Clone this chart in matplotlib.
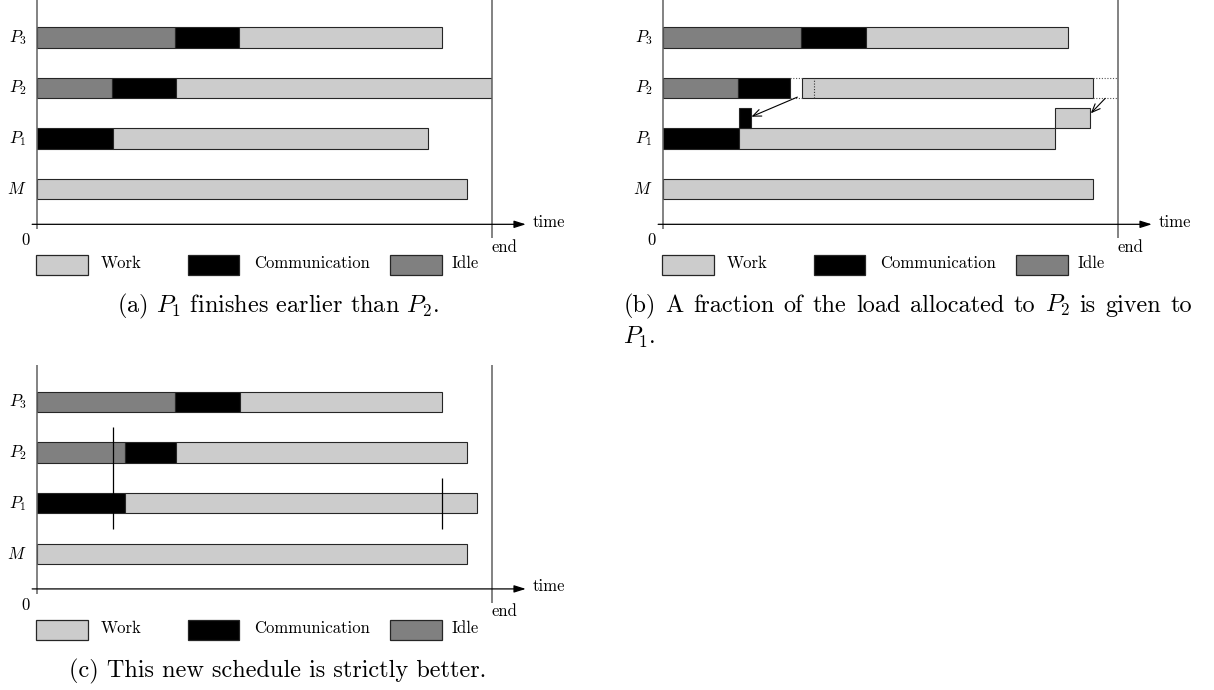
import matplotlib
matplotlib.use('Agg')
import matplotlib.pyplot as plt
from matplotlib.patches import Rectangle
import numpy as np

plt.rcParams['font.family'] = ['cmr10', 'DejaVu Serif']
plt.rcParams['mathtext.fontset'] = 'cm'
plt.rcParams['axes.formatter.use_mathtext'] = True

# ---------------- data ----------------
row_labels = ['$M$', '$P_1$', '$P_2$', '$P_3$']
legend_labels = ['Work', 'Communication', 'Idle']
T_END = 100

# (a) rows: M, P1, P2, P3
a_idle_end = [0, 0, 16.5, 30.5]
a_comm_end = [0, 16.8, 30.6, 44.5]
a_work_end = [94.5, 86.1, 100.0, 89.0]

# (b)
b_idle_end = [0, 0, 16.6, 30.5]
b_comm_end = [0, 16.8, 28.0, 44.7]
b_work_start = [0, 16.8, 30.6, 44.7]
b_work_end = [94.5, 86.2, 94.5, 89.1]
b_moved_comm = [16.8, 19.5]      # extra communication given to P1
b_moved_work = [86.2, 94.0]      # extra work given to P1
b_removed_comm = [28.0, 30.6]    # removed from P2
b_removed_work = [94.5, 100.0]   # removed from P2
b_shift_mark = 33.3

# (c)
c_idle_end = [0, 0, 19.4, 30.5]
c_comm_end = [0, 19.5, 30.6, 44.6]
c_work_end = [94.5, 96.7, 94.5, 89.0]
c_mark_x = [16.7, 89.0]
c_mark_rows = [(0.5, 2.5), (0.5, 1.5)]

caption_a = '(a) $P_1$ finishes earlier than $P_2$.'
caption_b1 = '(b) A fraction of the load allocated to $P_2$ is given to'
caption_b2 = '$P_1$.'
caption_c = '(c) This new schedule is strictly better.'

# ---------------- style / layout ----------------
W, H = 1214, 690
WORK_C, COMM_C, IDLE_C = '#cccccc', '#000000', '#808080'
EDGE = '#262626'
AXIS_GRAY = '#606060'
PX_PER_T = 4.55
PX_PER_ROW = 50.6
Y_LO, Y_HI = -1.0, 3.74
BAR_H = 0.4
TIME_Y = -0.694
SMALL = 12.0
CAP = 17.5

fig = plt.figure(figsize=(W / 100, H / 100), dpi=100)


def fx(px):
    return px / W


def fy(py):
    return 1 - py / H


def make_ax(x0px, row0px):
    top_px = row0px - Y_HI * PX_PER_ROW
    bottom_px = row0px - Y_LO * PX_PER_ROW
    ax = fig.add_axes([x0px / W, 1 - bottom_px / H, T_END * PX_PER_T / W,
                       (bottom_px - top_px) / H])
    ax.set_xlim(0, T_END)
    ax.set_ylim(Y_LO, Y_HI)
    ax.axis('off')
    return ax


def draw_frame(ax):
    ax.plot([0, 0], [-0.79, Y_HI], color=AXIS_GRAY, lw=1.1, clip_on=False,
            solid_capstyle='butt')
    ax.plot([T_END, T_END], [-0.97, Y_HI], color=AXIS_GRAY, lw=1.1,
            clip_on=False, solid_capstyle='butt')
    ax.annotate('', xy=(107.5, TIME_Y), xytext=(-1.0, TIME_Y),
                arrowprops=dict(arrowstyle='-|>,head_length=0.7,head_width=0.22',
                                color='black', lw=0.9, shrinkA=0, shrinkB=0),
                annotation_clip=False)
    ax.annotate('0', xy=(0, TIME_Y), xytext=(-11.7, -20.7),
                textcoords='offset pixels', ha='center', va='baseline',
                fontsize=SMALL, annotation_clip=False)
    ax.annotate('end', xy=(T_END, TIME_Y), xytext=(0, -27.2),
                textcoords='offset pixels', ha='left', va='baseline',
                fontsize=SMALL, annotation_clip=False)
    ax.annotate('time', xy=(107.5, TIME_Y), xytext=(7, -2.4),
                textcoords='offset pixels', ha='left', va='baseline',
                fontsize=SMALL, annotation_clip=False)
    for r, lab in enumerate(row_labels):
        ax.annotate(lab, xy=(0, r), xytext=(-10, 0), textcoords='offset pixels',
                    ha='right', va='center', fontsize=SMALL,
                    annotation_clip=False)


def draw_bars(ax, idle_end, comm_end, work_end, work_start=None):
    rows = np.arange(len(row_labels))
    idle_end = np.asarray(idle_end, float)
    comm_end = np.asarray(comm_end, float)
    work_end = np.asarray(work_end, float)
    work_start = comm_end if work_start is None else np.asarray(work_start, float)
    segs = [(np.zeros_like(idle_end), idle_end, IDLE_C),
            (idle_end, comm_end, COMM_C),
            (work_start, work_end, WORK_C)]
    for start, end, col in segs:
        w = end - start
        m = w > 0
        ax.barh(rows[m], w[m], left=start[m], height=BAR_H, color=col,
                edgecolor=EDGE, linewidth=0.8)


def draw_legend(x0px, ytop_px):
    boxes = [(-0.7, 51.7, WORK_C, 64.3), (151.6, 50.7, COMM_C, 217.6),
             (353.3, 51.7, IDLE_C, 415.0)]
    for (bx, bw, col, tx), lab in zip(boxes, legend_labels):
        fig.add_artist(Rectangle((fx(x0px + bx), fy(ytop_px + 20.5)),
                                 bw / W, 20.5 / H, transform=fig.transFigure,
                                 facecolor=col, edgecolor=EDGE, lw=0.9))
        fig.text(fx(x0px + tx), fy(ytop_px + 13.8), lab, fontsize=SMALL,
                 ha='left', va='baseline')


def justified_line(text, x_left, x_right, base_px, size):
    words = text.split(' ')
    renderer = fig.canvas.get_renderer()
    arts = [fig.text(0, fy(base_px), w, fontsize=size, ha='left', va='baseline')
            for w in words]
    widths = [a.get_window_extent(renderer).width for a in arts]
    gap = (x_right - x_left - sum(widths)) / (len(words) - 1)
    x = x_left
    for a, wd in zip(arts, widths):
        a.set_x(fx(x))
        x += wd + gap


# ---------------- panel (a) ----------------
ax_a = make_ax(36.7, 189.2)
draw_frame(ax_a)
draw_bars(ax_a, a_idle_end, a_comm_end, a_work_end)
draw_legend(36.7, 254.5)
fig.text(fx(278), fy(312), caption_a, fontsize=CAP, ha='center', va='baseline')

# ---------------- panel (b) ----------------
ax_b = make_ax(662.7, 189.2)
draw_frame(ax_b)
draw_bars(ax_b, b_idle_end, b_comm_end, b_work_end, work_start=b_work_start)
# pieces given to P1 (drawn on top of P1's bar)
p1_top = 1 + BAR_H / 2
ax_b.bar(b_moved_comm[0], BAR_H, width=b_moved_comm[1] - b_moved_comm[0],
         bottom=p1_top, align='edge', color=COMM_C, edgecolor=EDGE, lw=0.8)
ax_b.bar(b_moved_work[0], BAR_H, width=b_moved_work[1] - b_moved_work[0],
         bottom=p1_top, align='edge', color=WORK_C, edgecolor=EDGE, lw=0.8)
# removed parts of P2 (dotted)
p2_lo, p2_hi = 2 - BAR_H / 2, 2 + BAR_H / 2
ax_b.hlines([p2_lo, p2_hi], b_removed_comm[0], b_removed_comm[1],
            colors='#555555', linestyles=(0, (1, 1.5)), lw=0.8)
ax_b.hlines([p2_lo, p2_hi], b_removed_work[0], b_removed_work[1],
            colors='#555555', linestyles=(0, (1, 1.5)), lw=0.8)
ax_b.vlines([b_removed_work[1]], p2_lo, p2_hi, colors='#555555',
            linestyles=(0, (1, 1.5)), lw=0.8)
ax_b.vlines([b_shift_mark], p2_lo, p2_hi, colors='#333333',
            linestyles=(0, (1, 1.5)), lw=0.8)
# arrows
arrow_kw = dict(arrowstyle='->,head_length=0.6,head_width=0.25', color='black',
                lw=0.8, shrinkA=0, shrinkB=0)
ax_b.annotate('', xy=(b_moved_comm[1], 1.433),
              xytext=(np.mean(b_removed_comm) + 0.3, p2_lo + 0.02),
              arrowprops=arrow_kw)
ax_b.annotate('', xy=(b_moved_work[1] + 0.1, 1.5),
              xytext=(np.mean(b_removed_work), p2_lo - 0.005),
              arrowprops=arrow_kw)
draw_legend(662.7, 254.5)
justified_line(caption_b1, 623.3, 1192, 312, CAP)
fig.text(fx(623.3), fy(344), caption_b2, fontsize=CAP, ha='left', va='baseline')

# ---------------- panel (c) ----------------
ax_c = make_ax(36.7, 553.8)
draw_frame(ax_c)
draw_bars(ax_c, c_idle_end, c_comm_end, c_work_end)
for xm, (lo, hi) in zip(c_mark_x, c_mark_rows):
    ax_c.vlines(xm, lo, hi, colors='black', lw=0.9)
draw_legend(36.7, 619.5)
fig.text(fx(278), fy(677), caption_c, fontsize=CAP, ha='center', va='baseline')

fig.savefig('out.png', dpi=100)
